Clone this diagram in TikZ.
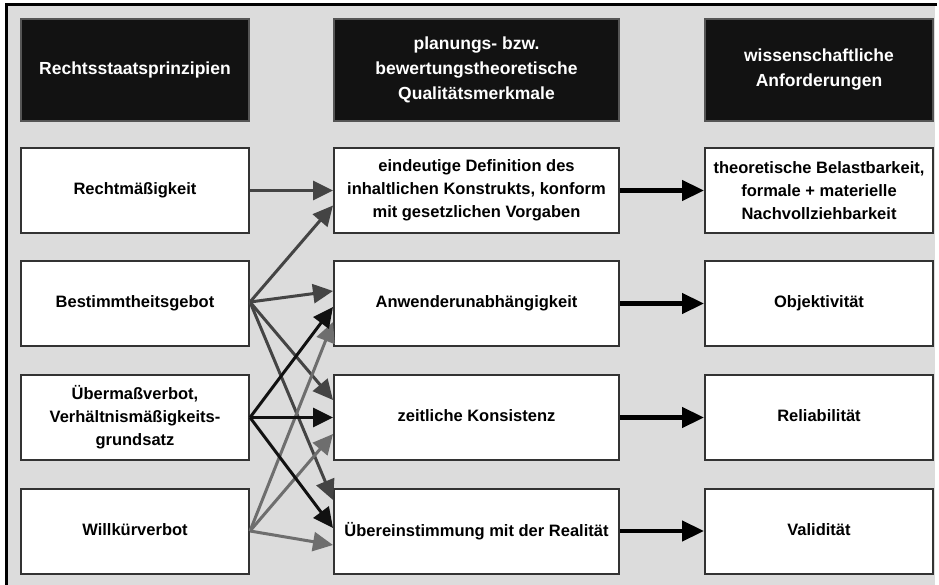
\documentclass[tikz,border=0pt]{standalone}
\usepackage{fontspec}
\setmainfont{Liberation Sans}
\usetikzlibrary{arrows.meta,calc}
\definecolor{bggray}{HTML}{DCDCDC}
\definecolor{boxline}{HTML}{333333}
\definecolor{hdrfill}{HTML}{121212}
\definecolor{hdrline}{HTML}{555555}
\definecolor{arrA}{HTML}{444444}
\definecolor{arrB}{HTML}{111111}
\definecolor{arrC}{HTML}{6E6E6E}
\tikzset{
  hdr/.style={draw=hdrline,line width=1.5pt,fill=hdrfill,text=white,
    font=\bfseries\fontsize{17.5}{25}\selectfont,align=center,
    minimum height=102pt,inner sep=0pt},
  cell/.style={draw=boxline,line width=2pt,fill=white,text=black,
    font=\bfseries\fontsize{16.5}{23}\selectfont,align=center,
    minimum height=85pt,inner sep=0pt},
  narrow/.style={minimum width=228pt},
  wide/.style={minimum width=285pt},
  link/.style={line width=3pt,-{Triangle[length=20pt,width=19pt]}},
  outlink/.style={line width=4.5pt,black,-{Triangle[length=22pt,width=20pt]}},
}
\newcommand{\up}[1]{\raisebox{3pt}{#1}}
\begin{document}
\begin{tikzpicture}[x=1pt,y=-1pt]
\useasboundingbox (0,0) rectangle (939,585);
\fill[white] (0,0) rectangle (939,585);
\fill[bggray] (6,5) rectangle (935,585);
\draw[line width=3pt,black] (5,5) -- (937,5);
\draw[line width=3pt,black] (6.5,5) -- (6.5,585);

% headers
\node[hdr,narrow] (h1) at (135,70) {Rechtsstaatsprinzipien};
\node[hdr,wide] (h2) at (476.5,70) {planungs- bzw.\\bewertungstheoretische\\Qualitätsmerkmale};
\node[hdr,narrow] (h3) at (819,70) {wissenschaftliche\\Anforderungen};

% column 1
\node[cell,narrow] (r1) at (135,190.5) {\up{Rechtmäßigkeit}};
\node[cell,narrow] (r2) at (135,303.5) {\up{Bestimmtheitsgebot}};
\node[cell,narrow] (r3) at (135,417.5) {Übermaßverbot,\\Verhältnismäßigkeits-\\grundsatz};
\node[cell,narrow] (r4) at (135,531) {\up{Willkürverbot}};

% column 2
\node[cell,wide] (m1) at (476.5,190.5) {eindeutige Definition des\\inhaltlichen Konstrukts, konform\\mit gesetzlichen Vorgaben};
\node[cell,wide] (m2) at (476.5,303.5) {\up{Anwenderunabhängigkeit}};
\node[cell,wide] (m3) at (476.5,417.5) {\up{zeitliche Konsistenz}};
\node[cell,wide] (m4) at (476.5,531) {\up{Übereinstimmung mit der Realität}};

% column 3
\node[cell,narrow] (q1) at (819,190.5) {theoretische Belastbarkeit,\\formale + materielle\\Nachvollziehbarkeit};
\node[cell,narrow] (q2) at (819,303.5) {\up{Objektivität}};
\node[cell,narrow] (q3) at (819,417.5) {\up{Reliabilität}};
\node[cell,narrow] (q4) at (819,531) {\up{Validität}};

% target points on the middle column
\coordinate (t1b) at ($(m1.west)+(0,15)$);
\coordinate (t2b) at ($(m2.west)+(0,-12.5)$);
\coordinate (t2u) at ($(m2.west)+(0,3.5)$);
\coordinate (t2w) at ($(m2.west)+(0,18.5)$);
\coordinate (t3b) at ($(m3.west)+(0,-17.5)$);
\coordinate (t3w) at ($(m3.west)+(0,16.5)$);
\coordinate (t4b) at ($(m4.west)+(0,-31)$);
\coordinate (t4u) at ($(m4.west)+(0,-3)$);
\coordinate (t4w) at ($(m4.west)+(0,14)$);
\coordinate (s2) at ($(r2.east)+(0,-1.5)$);

% arrows from column 1 to column 2
\draw[link,arrA] (r1.east) -- (m1.west);
\draw[link,arrA] (s2) -- (t1b);
\draw[link,arrA] (s2) -- (t2b);
\draw[link,arrA] (s2) -- (t3b);
\draw[link,arrA] (s2) -- (t4b);
\draw[link,arrC] (r4.east) -- (t2w);
\draw[link,arrC] (r4.east) -- (t3w);
\draw[link,arrC] (r4.east) -- (t4w);
\draw[link,arrB] (r3.east) -- (t2u);
\draw[link,arrB] (r3.east) -- (m3.west);
\draw[link,arrB] (r3.east) -- (t4u);

% arrows from column 2 to column 3
\draw[outlink] (m1.east) -- (q1.west);
\draw[outlink] (m2.east) -- (q2.west);
\draw[outlink] (m3.east) -- (q3.west);
\draw[outlink] (m4.east) -- (q4.west);
\end{tikzpicture}
\end{document}
